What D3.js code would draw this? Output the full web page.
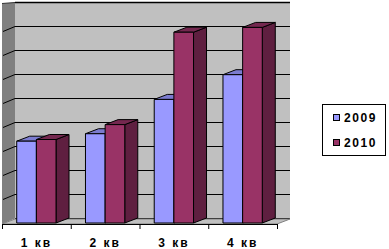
<!DOCTYPE html>
<html>
<head>
<meta charset="utf-8">
<script src="https://cdn.jsdelivr.net/npm/d3@7"></script>
<style>
  html, body { margin: 0; padding: 0; background: #fff; }
  svg { display: block; }
  text { font-family: "Liberation Sans", Arial, sans-serif; font-size: 12px; font-weight: bold; fill: #000; }
</style>
</head>
<body>
<div id="chart"></div>
<script>
// Data
const categories = ["1 кв", "2 кв", "3 кв", "4 кв"];
const seriesNames = ["2009", "2010"];
const values2009 = [34.3, 37.4, 51.7, 62.0];
const values2010 = [35.0, 41.2, 79.7, 81.7];
const yTicks = [0, 10, 20, 30, 40, 50, 60, 70, 80, 90];

const seriesValues = [values2009, values2010];
const colors = [
  { front: "#9999ff", top: "#7b7bcf", side: "#6a6ab3" },
  { front: "#993366", top: "#74284f", side: "#5f1f40" }
];

const W = 389, H = 249;
const depthX = 13, depthY = -5;      // 3D depth offset
const frontY = 224;                   // floor front edge
const barBaseY = 223;                 // bar front bottom
const x0 = 2, x1 = 277;               // floor front edge extent

const svg = d3.select("#chart").append("svg")
  .attr("width", W)
  .attr("height", H);

// scales
const x = d3.scaleBand().domain(categories).range([x0, x1]).padding(0);
const y = d3.scaleLinear().domain([0, 90]).range([218.5, 2.5]);
const barW = x.bandwidth() / 3.5;

// back wall
const wallL = x0 + depthX, wallR = x1 + depthX;
svg.append("rect")
  .attr("x", wallL).attr("y", y(90))
  .attr("width", wallR - wallL).attr("height", y(0) - y(90))
  .attr("fill", "#c0c0c0");

// left wall
svg.append("polygon")
  .attr("points", [[x0, 3.5], [wallL, y(90)], [wallL, y(0)], [x0, frontY]].join(" "))
  .attr("fill", "#808080");

// gridlines (back + left wall)
yTicks.forEach(t => {
  svg.append("line")
    .attr("x1", wallL).attr("x2", wallR)
    .attr("y1", y(t)).attr("y2", y(t))
    .attr("stroke", "#000").attr("stroke-width", 1);
  if (t > 0 && t < 90) {
    svg.append("line")
      .attr("x1", x0 + 1).attr("y1", y(t) - depthY)
      .attr("x2", wallL).attr("y2", y(t))
      .attr("stroke", "#000").attr("stroke-width", 1);
  }
});

// top border of wall
svg.append("line")
  .attr("x1", wallL).attr("x2", wallR)
  .attr("y1", y(90)).attr("y2", y(90))
  .attr("stroke", "#000").attr("stroke-width", 1.5);
svg.append("line")
  .attr("x1", x0).attr("y1", 3.5).attr("x2", wallL).attr("y2", y(90))
  .attr("stroke", "#333").attr("stroke-width", 1);

// floor
svg.append("polygon")
  .attr("points", [[x0, frontY], [x1, frontY], [wallR, y(0) + 0.5], [wallL, y(0) + 0.5]].join(" "))
  .attr("fill", "#c0c0c0")
  .attr("stroke", "#808080")
  .attr("stroke-width", 1);

// bars
categories.forEach((c, i) => {
  seriesValues.forEach((vals, s) => {
    const bx = x(c) + 0.75 * barW + s * barW;
    const top = y(vals[i]) - depthY;
    const col = colors[s];
    const g = svg.append("g")
      .attr("stroke", "#000").attr("stroke-width", 1).attr("stroke-linejoin", "round");
    g.append("polygon")
      .attr("points", [[bx + barW, top], [bx + barW + depthX, top + depthY],
                       [bx + barW + depthX, barBaseY + depthY], [bx + barW, barBaseY]].join(" "))
      .attr("fill", col.side);
    g.append("polygon")
      .attr("points", [[bx, top], [bx + barW, top], [bx + barW + depthX, top + depthY],
                       [bx + depthX, top + depthY]].join(" "))
      .attr("fill", col.top);
    g.append("rect")
      .attr("x", bx).attr("y", top)
      .attr("width", barW).attr("height", barBaseY - top)
      .attr("fill", col.front);
  });
});

// x axis line + ticks
svg.append("line")
  .attr("x1", x0).attr("x2", x1)
  .attr("y1", frontY + 0.5).attr("y2", frontY + 0.5)
  .attr("stroke", "#000").attr("stroke-width", 1.2);
const tickXs = categories.map(c => x(c)).concat([x1]);
tickXs.forEach(tx => {
  svg.append("line")
    .attr("x1", tx + 0.5).attr("x2", tx + 0.5)
    .attr("y1", frontY).attr("y2", frontY + 5)
    .attr("stroke", "#000").attr("stroke-width", 1);
});

// category labels
svg.selectAll(".cat")
  .data(categories)
  .enter()
  .append("text")
  .attr("class", "cat")
  .attr("x", d => x(d) + x.bandwidth() / 2)
  .attr("y", 246.5)
  .attr("text-anchor", "middle")
  .attr("letter-spacing", "2px")
  .text(d => d);

// legend
const legend = svg.append("g");
legend.append("rect")
  .attr("x", 322.5).attr("y", 104.5)
  .attr("width", 63).attr("height", 51)
  .attr("fill", "#fff").attr("stroke", "#000");
seriesNames.forEach((name, s) => {
  legend.append("rect")
    .attr("x", 333.5).attr("y", 114.5 + s * 25)
    .attr("width", 6).attr("height", 6)
    .attr("fill", colors[s].front).attr("stroke", "#000");
  legend.append("text")
    .attr("x", 344).attr("y", 121.7 + s * 24.8)
    .attr("letter-spacing", "1.6px")
    .attr("font-weight", "normal")
    .text(name);
});
</script>
</body>
</html>
